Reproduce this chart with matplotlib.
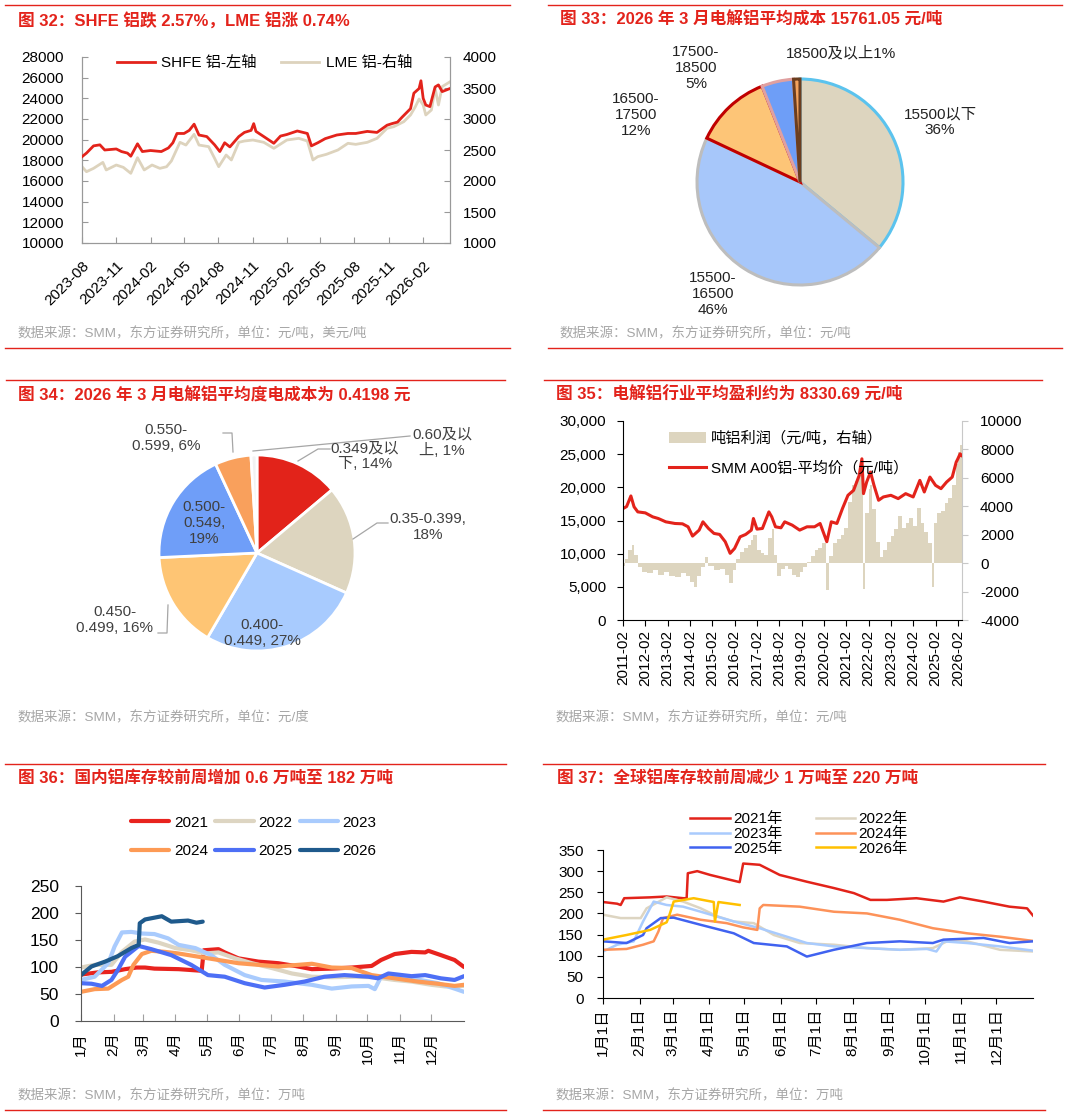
import matplotlib
matplotlib.use("Agg")
import matplotlib.pyplot as plt
import matplotlib.dates as mdates
from matplotlib.lines import Line2D
from matplotlib.ticker import FuncFormatter, MultipleLocator
import pandas as pd

plt.rcParams["font.family"] = ["Liberation Sans", "Noto Sans CJK SC"]
plt.rcParams["axes.unicode_minus"] = False

# %% Dane - wykres 32 (SHFE / LME)
shfe_dates = ["2023-08-01", "2023-08-13", "2023-09-01", "2023-09-18", "2023-10-01", "2023-11-01",
              "2023-11-15", "2023-12-01", "2023-12-10", "2023-12-28", "2024-01-10", "2024-02-01",
              "2024-03-01", "2024-03-20", "2024-04-01", "2024-04-12", "2024-05-01", "2024-05-15",
              "2024-05-28", "2024-06-10", "2024-07-01", "2024-07-22", "2024-08-05", "2024-08-18",
              "2024-09-01", "2024-09-25", "2024-10-10", "2024-10-28", "2024-11-04", "2024-11-10",
              "2024-12-01", "2024-12-28", "2025-01-15", "2025-02-01", "2025-03-01", "2025-03-28",
              "2025-04-08", "2025-04-25", "2025-05-15", "2025-06-15", "2025-07-15", "2025-08-05",
              "2025-09-05", "2025-10-01", "2025-10-28", "2025-11-10", "2025-11-25", "2025-12-08",
              "2025-12-30", "2026-01-08", "2026-01-22", "2026-01-27", "2026-02-02", "2026-02-09",
              "2026-02-20", "2026-03-06", "2026-03-15", "2026-03-25", "2026-04-15"]
shfe_vals = [18350, 18700, 19400, 19500, 19000, 19100, 18850, 18700, 18400, 19600, 18850, 18950,
             18850, 19200, 19700, 20600, 20600, 20900, 21500, 20450, 20300, 19500, 18850, 19700,
             19300, 20300, 20700, 20900, 21550, 20800, 20300, 19650, 20350, 20500, 20840, 20600,
             19400, 19700, 20100, 20450, 20600, 20600, 20800, 20700, 21400, 21550, 21700, 22200,
             23000, 24500, 24950, 25700, 24000, 23350, 23200, 25100, 25300, 24650, 24950]

lme_dates = ["2023-08-01", "2023-08-13", "2023-09-01", "2023-09-26", "2023-10-05", "2023-11-01",
             "2023-11-20", "2023-12-10", "2023-12-28", "2024-01-15", "2024-02-05", "2024-02-26",
             "2024-03-15", "2024-03-28", "2024-04-20", "2024-05-06", "2024-05-28", "2024-06-10",
             "2024-07-06", "2024-07-22", "2024-08-02", "2024-08-22", "2024-09-05", "2024-09-25",
             "2024-10-10", "2024-11-02", "2024-12-01", "2024-12-28", "2025-02-01", "2025-03-05",
             "2025-03-28", "2025-04-12", "2025-04-25", "2025-05-18", "2025-06-18", "2025-07-15",
             "2025-08-05", "2025-09-05", "2025-10-01", "2025-10-28", "2025-11-15", "2025-12-12",
             "2025-12-30", "2026-01-12", "2026-01-22", "2026-02-02", "2026-02-09", "2026-02-24",
             "2026-03-06", "2026-03-15", "2026-03-25", "2026-04-15"]
lme_vals = [2231, 2150, 2204, 2300, 2178, 2258, 2220, 2124, 2376, 2178, 2258, 2204,
            2230, 2323, 2624, 2580, 2753, 2580, 2554, 2366, 2231, 2419, 2339, 2624,
            2645, 2661, 2624, 2527, 2661, 2688, 2645, 2339, 2393, 2430, 2500, 2608,
            2591, 2624, 2688, 2850, 2876, 2957, 3065, 3199, 3323, 3226, 3065, 3145,
            3495, 3226, 3522, 3600]
p32_ticks = ["2023-08", "2023-11", "2024-02", "2024-05", "2024-08", "2024-11",
             "2025-02", "2025-05", "2025-08", "2025-11", "2026-02"]

# %% Dane - wykres 33 (koszt)
cost_labels = ["15500以下\n36%", "15500-\n16500\n46%", "16500-\n17500\n12%",
               "17500-\n18500\n5%", "18500及以上1%"]
cost_share = [36, 46, 12, 5, 1]

# %% Dane - wykres 34 (koszt energii)
power_labels = ["0.349及以\n下, 14%", "0.35-0.399,\n18%", "0.400-\n0.449, 27%",
                "0.450-\n0.499, 16%", "0.500-\n0.549,\n19%", "0.550-\n0.599, 6%",
                "0.60及以\n上, 1%"]
power_share = [14, 18, 27, 16, 19, 6, 1]

# %% Dane - wykres 35 (cena i zysk)
price_dates = ["2011-02-01", "2011-04-01", "2011-06-10", "2011-08-01", "2011-10-01", "2012-02-01",
               "2012-06-01", "2012-09-01", "2013-01-01", "2013-06-01", "2013-10-01", "2014-01-01",
               "2014-03-15", "2014-07-01", "2014-09-01", "2014-12-01", "2015-03-01", "2015-06-01",
               "2015-09-01", "2015-11-20", "2016-02-01", "2016-05-01", "2016-08-01", "2016-11-01",
               "2016-12-05", "2017-02-01", "2017-05-01", "2017-08-15", "2017-10-01", "2017-12-01",
               "2018-03-01", "2018-05-01", "2018-09-01", "2019-01-01", "2019-05-01", "2019-09-01",
               "2019-12-01", "2020-03-20", "2020-06-01", "2020-09-01", "2020-12-01", "2021-03-01",
               "2021-06-01", "2021-09-01", "2021-10-15", "2021-11-10", "2022-01-01", "2022-03-05",
               "2022-05-01", "2022-07-15", "2022-10-01", "2023-02-01", "2023-06-01", "2023-10-01",
               "2024-02-01", "2024-05-20", "2024-08-01", "2024-11-01", "2025-02-01", "2025-05-01",
               "2025-08-01", "2025-11-01", "2026-01-05", "2026-02-01", "2026-03-10", "2026-04-05"]
price_vals = [16800, 17100, 18700, 17060, 16300, 16150, 15550, 15300, 14800, 14550, 14500, 14050,
              12650, 13550, 14800, 13800, 13050, 12900, 11800, 10050, 10790, 12540, 12900, 13550,
              15300, 13700, 13800, 16300, 15550, 14050, 13900, 14800, 14300, 13550, 14050, 14050,
              14550, 11800, 14800, 14550, 16800, 18800, 19550, 21800, 24300, 19050, 20800, 22300,
              20300, 18050, 18550, 18800, 18300, 19050, 18550, 21050, 19300, 21550, 20300, 19800,
              20800, 21550, 23800, 24300, 25050, 24800]

profit_dates = ["2011-02-01", "2011-03-01", "2011-05-01", "2011-07-01", "2011-08-01", "2011-10-01",
                "2011-12-01", "2012-03-01", "2012-06-01", "2012-09-01", "2012-12-01", "2013-03-01",
                "2013-06-01", "2013-09-01", "2013-12-01", "2014-02-01", "2014-04-01", "2014-06-01",
                "2014-08-01", "2014-10-01", "2014-12-01", "2015-03-01", "2015-06-01", "2015-09-01",
                "2015-11-01", "2016-01-01", "2016-03-01", "2016-05-01", "2016-07-01", "2016-09-01",
                "2016-11-01", "2016-12-01", "2017-02-01", "2017-04-01", "2017-06-01", "2017-08-01",
                "2017-10-01", "2017-11-01", "2018-01-01", "2018-03-01", "2018-05-01", "2018-07-01",
                "2018-09-01", "2018-11-01", "2019-01-01", "2019-03-01", "2019-05-01", "2019-07-01",
                "2019-09-01", "2019-11-01", "2020-01-01", "2020-03-01", "2020-05-01", "2020-07-01",
                "2020-09-01", "2020-11-01", "2021-01-01", "2021-03-01", "2021-05-01", "2021-07-01",
                "2021-09-01", "2021-10-01", "2021-11-01", "2021-12-01", "2022-02-01", "2022-03-01",
                "2022-04-01", "2022-06-01", "2022-08-01", "2022-10-01", "2022-12-01", "2023-02-01",
                "2023-04-01", "2023-06-01", "2023-08-01", "2023-10-01", "2023-12-01", "2024-02-01",
                "2024-04-01", "2024-06-01", "2024-08-01", "2024-10-01", "2024-12-01", "2025-01-01",
                "2025-03-01", "2025-05-01", "2025-07-01", "2025-09-01", "2025-11-01", "2026-01-01",
                "2026-02-01", "2026-03-01"]
profit_vals = [-200, 300, 900, 1300, 600, -300, -600, -700, -500, -800, -600, -900,
               -1000, -700, -900, -1300, -1700, -900, -300, 400, -200, -500, -400, -800,
               -1400, -500, 300, 800, 1100, 1300, 1600, 2000, 900, 700, 600, 1800,
               2400, 600, -900, -400, -200, -400, -800, -1000, -600, -300, 100, 500,
               900, 1100, 1400, -1900, 500, 1400, 1700, 2000, 2500, 4300, 5500, 5800,
               6200, 7200, -1800, 3500, 5200, 5500, 3800, 1500, 400, 900, 1500, 1900,
               2400, 3300, 2500, 2800, 3200, 2600, 3900, 2800, 2200, 1400, -1700, 2800,
               3500, 3700, 4200, 4600, 5500, 7000, 7800, 8300]

# %% Dane - wykres 36 (zapasy krajowe, dzień roku -> 万吨)
months = ["1月", "2月", "3月", "4月", "5月", "6月", "7月", "8月", "9月", "10月", "11月", "12月"]
month_days = [0, 31, 59, 90, 120, 151, 181, 212, 243, 273, 304, 334]

dom_2021 = [(0, 86), (16, 90), (29, 91), (42, 96), (53, 99), (61, 99), (70, 97), (93, 96),
            (115, 93), (117, 131), (131, 133), (137, 127), (150, 116), (169, 110), (188, 107),
            (204, 102), (220, 96), (239, 97), (258, 99), (277, 102), (286, 113), (299, 124),
            (315, 128), (328, 127), (331, 130), (343, 122), (356, 113), (365, 100)]
dom_2022 = [(0, 99), (13, 104), (29, 104), (39, 128), (51, 147), (61, 151), (74, 145), (90, 135),
            (105, 131), (118, 125), (131, 127), (147, 116), (163, 107), (182, 98), (201, 88),
            (220, 82), (239, 81), (261, 82), (280, 81), (299, 76), (315, 73), (334, 67),
            (347, 64), (365, 65)]
dom_2023 = [(0, 76), (13, 82), (26, 107), (32, 138), (39, 164), (48, 165), (58, 162), (70, 161),
            (83, 153), (93, 141), (109, 135), (124, 122), (137, 104), (156, 85), (172, 76),
            (194, 73), (220, 67), (239, 60), (258, 64), (274, 65), (280, 59), (286, 82),
            (315, 79), (340, 70), (356, 60), (365, 54)]
dom_2024 = [(0, 54), (13, 59), (26, 60), (39, 76), (45, 82), (50, 104), (58, 124), (67, 130),
            (80, 128), (93, 125), (112, 119), (131, 113), (150, 107), (169, 104), (188, 101),
            (220, 106), (239, 99), (258, 98), (277, 85), (299, 79), (321, 73), (340, 69),
            (356, 65), (365, 67)]
dom_2025 = [(0, 70), (10, 69), (20, 65), (29, 76), (35, 94), (42, 119), (55, 139), (67, 133),
            (86, 122), (105, 104), (121, 85), (137, 82), (156, 70), (175, 62), (194, 67),
            (213, 73), (232, 82), (251, 85), (274, 82), (283, 79), (293, 88), (315, 83),
            (328, 85), (343, 79), (356, 76), (365, 83)]
dom_2026 = [(0, 85), (10, 101), (23, 110), (35, 120), (48, 135), (55, 141), (56, 181), (61, 188),
            (77, 194), (86, 184), (102, 186), (110, 182), (116, 184)]

# %% Dane - wykres 37 (zapasy globalne)
days_labels = ["1月1日", "2月1日", "3月1日", "4月1日", "5月1日", "6月1日", "7月1日",
               "8月1日", "9月1日", "10月1日", "11月1日", "12月1日"]

glb_2021 = [(0, 227), (12, 223), (15, 220), (18, 236), (40, 238), (54, 240), (68, 236),
            (71, 236), (72, 295), (80, 300), (91, 291), (116, 274), (119, 318), (133, 315),
            (150, 291), (173, 275), (196, 260), (213, 248), (227, 232), (241, 232), (266, 236),
            (289, 228), (303, 238), (323, 228), (345, 216), (360, 212), (365, 195)]
glb_2022 = [(0, 197), (15, 189), (32, 189), (37, 212), (54, 238), (68, 228), (83, 212),
            (97, 193), (111, 181), (128, 177), (145, 149), (167, 130), (196, 126), (224, 118),
            (252, 114), (280, 118), (295, 138), (309, 134), (337, 114), (365, 110)]
glb_2023 = [(0, 110), (12, 126), (26, 134), (34, 181), (43, 228), (54, 220), (68, 216),
            (83, 204), (111, 181), (133, 165), (156, 145), (173, 130), (196, 122), (224, 118),
            (252, 114), (275, 116), (283, 110), (289, 134), (309, 130), (337, 122), (365, 112)]
glb_2024 = [(0, 114), (20, 116), (34, 126), (43, 134), (47, 157), (51, 189), (63, 197),
            (83, 185), (105, 177), (119, 167), (131, 161), (133, 212), (136, 220), (167, 216),
            (196, 204), (224, 200), (252, 185), (280, 165), (309, 153), (337, 145), (365, 135)]
glb_2025 = [(0, 134), (20, 130), (34, 149), (37, 165), (49, 189), (60, 190), (83, 173),
            (111, 153), (128, 130), (156, 122), (173, 98), (196, 114), (224, 130), (252, 134),
            (280, 130), (289, 138), (323, 142), (345, 130), (365, 134)]
glb_2026 = [(0, 138), (20, 149), (40, 161), (54, 179), (56, 193), (60, 228), (77, 236),
            (94, 227), (95, 181), (98, 227), (116, 220)]

# %% Układ
W, H = 1068, 1116
RED = "#E3231B"
SRC = "#A6A6A6"
fig = plt.figure(figsize=(W / 100, H / 100), dpi=100)


def fx(x):
    return x / W


def fy(y):
    return 1 - y / H


def add_ax(l, t, r, b):
    return fig.add_axes([fx(l), fy(b), (r - l) / W, (b - t) / H])


def ftext(x, y, s, **kw):
    return fig.text(fx(x), fy(y), s, **kw)


def fline(xs, ys, **kw):
    fig.add_artist(Line2D([fx(x) for x in xs], [fy(y) for y in ys],
                          transform=fig.transFigure, **kw))


# ramki paneli
for x0, x1, ys in [(5, 510, (5, 348)), (548, 1062, (5, 348)), (6, 505, (380,)),
                   (544, 1042, (380,)), (5, 506, (764, 1110)), (543, 1045, (764, 1110))]:
    for y in ys:
        fline([x0, x1], [y, y], color=RED, lw=1.0)

titles = [(18, 20, "图 32：SHFE 铝跌 2.57%，LME 铝涨 0.74%"),
          (560, 20, "图 33：2026 年 3 月电解铝平均成本 15761.05 元/吨"),
          (18, 395, "图 34：2026 年 3 月电解铝平均度电成本为 0.4198 元"),
          (556, 395, "图 35：电解铝行业平均盈利约为 8330.69 元/吨"),
          (18, 778, "图 36：国内铝库存较前周增加 0.6 万吨至 182 万吨"),
          (557, 778, "图 37：全球铝库存较前周减少 1 万吨至 220 万吨")]
for x, y, s in titles:
    ftext(x, y, s, color=RED, fontsize=12, fontweight="bold", va="center")

sources = [(18, 334, "数据来源：SMM，东方证券研究所，单位：元/吨，美元/吨"),
           (559, 334, "数据来源：SMM，东方证券研究所，单位：元/吨"),
           (18, 718, "数据来源：SMM，东方证券研究所，单位：元/度"),
           (555, 718, "数据来源：SMM，东方证券研究所，单位：元/吨"),
           (18, 1096, "数据来源：SMM，东方证券研究所，单位：万吨"),
           (556, 1096, "数据来源：SMM，东方证券研究所，单位：万吨")]
for x, y, s in sources:
    ftext(x, y, s, color=SRC, fontsize=9.7, va="center")

FS = 11

# %% Wykres 32
ax1 = add_ax(82, 57, 450, 243)
ax1r = ax1.twinx()
l1, = ax1.plot(pd.to_datetime(shfe_dates), shfe_vals, color="#E3231B", lw=2.0, zorder=3)
l2, = ax1r.plot(pd.to_datetime(lme_dates), lme_vals, color="#DDD3BD", lw=2.0)
ax1.set_zorder(ax1r.get_zorder() + 1)
ax1.patch.set_visible(False)
ax1.set_ylim(10000, 28000)
ax1.yaxis.set_major_locator(MultipleLocator(2000))
ax1r.set_ylim(1000, 4000)
ax1r.yaxis.set_major_locator(MultipleLocator(500))
ax1.set_xlim(pd.Timestamp("2023-08-01"), pd.Timestamp("2026-04-15"))
ax1.set_xticks(pd.to_datetime(p32_ticks))
ax1.xaxis.set_major_formatter(mdates.DateFormatter("%Y-%m"))
for lab in ax1.get_xticklabels():
    lab.set_rotation(45)
    lab.set_ha("right")
    lab.set_rotation_mode("anchor")
for a in (ax1, ax1r):
    a.spines["top"].set_visible(False)
    for s in ("left", "right", "bottom"):
        a.spines[s].set_color("#999999")
    a.tick_params(direction="in", length=4, color="#999999", labelsize=FS)
ax1.tick_params(axis="y", pad=13)
ax1.tick_params(axis="x", pad=11)
ax1r.tick_params(axis="y", pad=9)
ax1.legend([l1, l2], ["SHFE 铝-左轴", "LME 铝-右轴"], ncol=2, frameon=False,
           loc="center left", bbox_to_anchor=(fx(117), fy(63)), bbox_transform=fig.transFigure,
           borderpad=0, borderaxespad=0, handlelength=2.5, handletextpad=0.4,
           columnspacing=1.6, fontsize=FS)

# %% Wykres 33
cx, cy, r = 800, 182, 103
ax2 = add_ax(cx - r, cy - r, cx + r, cy + r)
cost_colors = ["#DDD5BF", "#A7C7FA", "#FDC577", "#6E9EF7", "#F4A35C"]
cost_edges = ["#5BC3EE", "#BDBDBD", "#C00000", "#E0A0A0", "#6B3E1F"]
wedges, _ = ax2.pie(cost_share, colors=cost_colors, startangle=90, counterclock=False,
                    radius=1)
for w, ec in zip(wedges, cost_edges):
    w.set_edgecolor(ec)
    w.set_linewidth(2.2)
ax2.set_xlim(-1, 1)
ax2.set_ylim(-1, 1)
ax2.set_aspect("equal")
ax2.axis("off")
cost_pos = [(940, 122), (713, 294), (636, 115), (696, 68), (841, 53)]
for (x, y), s in zip(cost_pos, cost_labels):
    ftext(x, y, s, fontsize=FS, ha="center", va="center", linespacing=1.15, color="#222222")

# %% Wykres 34
cx, cy, r = 257, 553, 98
ax3 = add_ax(cx - r, cy - r, cx + r, cy + r)
power_colors = ["#E2231A", "#DDD5BF", "#A8CBFE", "#FEC574", "#6F9EF8", "#F9A05C", "#F2F2F2"]
ax3.pie(power_share, colors=power_colors, startangle=90, counterclock=False, radius=1,
        wedgeprops=dict(edgecolor="white", linewidth=2))
ax3.set_xlim(-1, 1)
ax3.set_ylim(-1, 1)
ax3.set_aspect("equal")
ax3.axis("off")
power_pos = [(365, 456), (428, 527), (262, 633), (115, 620), (204, 523), (166, 438), (442, 443)]
for (x, y), s in zip(power_pos, power_labels):
    ftext(x, y, s, fontsize=FS, ha="center", va="center", linespacing=1.15, color="#404040")
leaders = [([298, 318, 330], [461, 449, 449]), ([353, 377, 388], [539, 523, 523]),
           ([168, 167, 158], [605, 633, 633]), ([223, 232, 233], [433, 433, 452]),
           ([253, 410], [451, 436])]
for xs, ys in leaders:
    fline(xs, ys, color="#A6A6A6", lw=0.9)

# %% Wykres 35
ax4 = add_ax(623, 421, 962, 620)
ax4r = ax4.twinx()
pd_dates = pd.to_datetime(profit_dates)
widths = [(b - a).days for a, b in zip(pd_dates[:-1], pd_dates[1:])] + [35]
bars = ax4r.bar(pd_dates, profit_vals, width=widths, align="edge", color="#DDD5BF",
                edgecolor="none")
lp, = ax4.plot(pd.to_datetime(price_dates), price_vals, color="#E3231B", lw=2.2)
ax4.set_zorder(ax4r.get_zorder() + 1)
ax4.patch.set_visible(False)
ax4.set_ylim(0, 30000)
ax4.yaxis.set_major_locator(MultipleLocator(5000))
ax4.yaxis.set_major_formatter(FuncFormatter(lambda v, p: f"{v:,.0f}"))
ax4r.set_ylim(-4000, 10000)
ax4r.yaxis.set_major_locator(MultipleLocator(2000))
ax4.set_xlim(pd.Timestamp("2011-02-01"), pd.Timestamp("2026-04-10"))
ax4.set_xticks(pd.to_datetime([f"{y}-02-01" for y in range(2011, 2027)]))
ax4.xaxis.set_major_formatter(mdates.DateFormatter("%Y-%m"))
ax4.tick_params(axis="x", rotation=90)
for a in (ax4, ax4r):
    a.spines["top"].set_visible(False)
    a.tick_params(direction="out", length=4, labelsize=FS)
ax4.tick_params(axis="y", pad=8)
ax4r.tick_params(axis="y", pad=9)
ax4.spines["right"].set_visible(False)
ax4r.spines["left"].set_visible(False)
ax4r.spines["bottom"].set_visible(False)
ax4r.spines["right"].set_color("#C8C8C8")
ax4r.tick_params(color="#C8C8C8")
ax4.legend([bars, lp], ["吨铝利润（元/吨，右轴）", "SMM A00铝-平均价（元/吨）"], frameon=False,
           loc="center left", bbox_to_anchor=(fx(669), fy(453)), bbox_transform=fig.transFigure,
           borderpad=0, borderaxespad=0, handlelength=2.4, handletextpad=0.35,
           labelspacing=0.95, fontsize=FS)

# %% Wykres 36
ax5 = add_ax(81, 886, 464, 1021)
dom_series = [("2021", dom_2021, "#E8231E"), ("2022", dom_2022, "#DDD5C2"),
              ("2023", dom_2023, "#A9CBFD"), ("2024", dom_2024, "#FD9A55"),
              ("2025", dom_2025, "#4D6FF5"), ("2026", dom_2026, "#1F5A8C")]
h5 = {}
for name, series, col in dom_series:
    d, v = zip(*series)
    h5[name], = ax5.plot(d, v, color=col, lw=3.0, solid_capstyle="round")
ax5.set_xlim(0, 365)
ax5.set_ylim(0, 250)
ax5.yaxis.set_major_locator(MultipleLocator(50))
ax5.set_xticks(month_days)
ax5.set_xticklabels(months, rotation=90)
for s in ("top", "right"):
    ax5.spines[s].set_visible(False)
ax5.spines["left"].set_color("#595959")
ax5.spines["bottom"].set_color("#595959")
ax5.tick_params(axis="y", direction="out", length=4, labelsize=12.5, color="#595959", pad=12)
ax5.tick_params(axis="x", direction="in", length=5, labelsize=FS, color="#A0A0A0", pad=8)
order5 = ["2021", "2024", "2022", "2025", "2023", "2026"]
ax5.legend([h5[k] for k in order5], order5, ncol=3, frameon=False,
           loc="center left", bbox_to_anchor=(fx(131), fy(837)), bbox_transform=fig.transFigure,
           borderpad=0, borderaxespad=0, handlelength=2.5, handletextpad=0.3,
           columnspacing=0.5, labelspacing=0.95, fontsize=FS)

# %% Wykres 37
ax6 = add_ax(603, 850, 1033, 998)
glb_series = [("2021年", glb_2021, "#E2231A"), ("2022年", glb_2022, "#DDD5C2"),
              ("2023年", glb_2023, "#A9CBFD"), ("2024年", glb_2024, "#FD9259"),
              ("2025年", glb_2025, "#4062F0"), ("2026年", glb_2026, "#FFC000")]
h6 = {}
for name, series, col in glb_series:
    d, v = zip(*series)
    h6[name], = ax6.plot(d, v, color=col, lw=1.8)
ax6.set_xlim(0, 365)
ax6.set_ylim(0, 350)
ax6.yaxis.set_major_locator(MultipleLocator(50))
ax6.set_xticks(month_days)
ax6.set_xticklabels(days_labels, rotation=90)
for s in ("top", "right"):
    ax6.spines[s].set_visible(False)
ax6.tick_params(direction="out", length=4, labelsize=FS)
ax6.tick_params(axis="y", pad=10)
order6 = ["2021年", "2023年", "2025年", "2022年", "2024年", "2026年"]
ax6.legend([h6[k] for k in order6], order6, ncol=2, frameon=False,
           loc="center left", bbox_to_anchor=(fx(690), fy(834)), bbox_transform=fig.transFigure,
           borderpad=0, borderaxespad=0, handlelength=2.6, handletextpad=0.2,
           columnspacing=2.2, labelspacing=0.05, fontsize=FS)

fig.savefig("out.png", dpi=100)
